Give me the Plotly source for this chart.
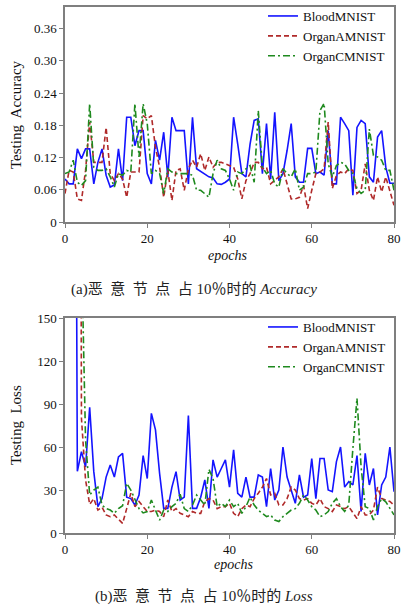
import plotly.graph_objects as go

epochs = list(range(81))

# (a) Testing accuracy
acc_blood = [0.080, 0.071, 0.071, 0.136, 0.118, 0.136, 0.136, 0.071, 0.111, 0.136,
             0.087, 0.065, 0.069, 0.136, 0.077, 0.195, 0.195, 0.142, 0.170, 0.170,
             0.090, 0.071, 0.152, 0.115, 0.167, 0.084, 0.195, 0.170, 0.170, 0.170,
             0.071, 0.195, 0.099, 0.094, 0.089, 0.084, 0.082, 0.071, 0.070, 0.074,
             0.080, 0.195, 0.145, 0.090, 0.084, 0.145, 0.189, 0.192, 0.090, 0.183,
             0.080, 0.204, 0.077, 0.090, 0.133, 0.183, 0.084, 0.074, 0.074, 0.137,
             0.137, 0.090, 0.093, 0.087, 0.170, 0.071, 0.071, 0.195, 0.183, 0.170,
             0.050, 0.176, 0.189, 0.183, 0.084, 0.074, 0.158, 0.170, 0.102, 0.072,
             0.072]
acc_organa = [0.053, 0.096, 0.093, 0.043, 0.040, 0.096, 0.186, 0.111, 0.111, 0.111,
              0.176, 0.090, 0.077, 0.090, 0.080, 0.046, 0.093, 0.093, 0.093, 0.198,
              0.192, 0.198, 0.139, 0.102, 0.046, 0.096, 0.040, 0.096, 0.099, 0.059,
              0.099, 0.115, 0.102, 0.127, 0.096, 0.121, 0.102, 0.111, 0.111, 0.108,
              0.105, 0.102, 0.080, 0.043, 0.077, 0.090, 0.111, 0.111, 0.099, 0.102,
              0.071, 0.077, 0.084, 0.099, 0.071, 0.043, 0.043, 0.046, 0.068, 0.025,
              0.059, 0.090, 0.093, 0.099, 0.186, 0.062, 0.087, 0.093, 0.090, 0.099,
              0.096, 0.053, 0.059, 0.108, 0.059, 0.040, 0.084, 0.056, 0.084, 0.059,
              0.031]
acc_organc = [0.090, 0.093, 0.115, 0.074, 0.068, 0.077, 0.220, 0.102, 0.096, 0.096,
              0.099, 0.084, 0.065, 0.090, 0.087, 0.096, 0.093, 0.220, 0.121, 0.220,
              0.183, 0.090, 0.096, 0.090, 0.053, 0.099, 0.093, 0.090, 0.090, 0.090,
              0.090, 0.087, 0.059, 0.059, 0.053, 0.046, 0.090, 0.115, 0.099, 0.096,
              0.080, 0.059, 0.093, 0.090, 0.099, 0.105, 0.074, 0.207, 0.102, 0.090,
              0.096, 0.071, 0.065, 0.099, 0.090, 0.084, 0.099, 0.059, 0.065, 0.090,
              0.090, 0.093, 0.207, 0.221, 0.108, 0.084, 0.105, 0.111, 0.108, 0.096,
              0.090, 0.062, 0.053, 0.059, 0.173, 0.124, 0.121, 0.115, 0.096, 0.096,
              0.059]

# (b) Testing loss
loss_blood = [1800, 1500, 750, 43, 56.8, 46, 87.7, 42.8, 18.4, 24,
              39, 47.4, 39, 53, 55.6, 25, 24, 19.5, 26.5, 54,
              38, 83.5, 72, 41.6, 17.2, 17.2, 32, 42.8, 23, 25,
              82, 17.2, 17.2, 25, 37, 17.2, 51, 39, 45, 51,
              32, 58, 27.7, 25, 39, 25, 25, 40.5, 39, 18.4,
              45, 23, 30, 60, 39, 30, 20.7, 40.5, 25, 26.5,
              52, 24, 52, 52, 30, 28.8, 49.8, 60, 32, 35.8,
              33.5, 54, 15, 55.6, 33.5, 45, 12.6, 33.5, 39, 60,
              28.8]
loss_organa = [1900, 1700, 1500, 1300, 80, 37, 20, 24, 16, 18,
               12.6, 11.4, 12.6, 10, 6.7, 17, 27.7, 18.4, 22, 18.4,
               15, 15, 16, 15, 11.4, 23, 15, 17, 13.7, 12.6,
               11.4, 15, 13.7, 13.7, 22, 24, 23, 17, 18.4, 18.4,
               20.7, 13.7, 11.4, 17, 19.5, 18.4, 24, 27.7, 32, 38,
               26.5, 27.7, 19.5, 19.5, 24, 32, 30, 24, 23, 24,
               20.7, 19.5, 24, 18.4, 17, 15, 19.5, 18.4, 17, 18.4,
               13.7, 10, 18.4, 12.6, 12.6, 16, 32, 24, 23, 22,
               19.5]
loss_organc = [2000, 1800, 1600, 1400, 200, 65, 26.5, 30, 32, 19.5,
               17, 16, 13.7, 17, 19, 34.7, 30, 23, 17, 14,
               15, 23, 16, 9, 16, 15, 18.4, 20.7, 27, 17,
               15, 19.5, 26.5, 23, 19.5, 44.4, 38, 18.4, 20.7, 18.4,
               23, 18.4, 20.7, 13.7, 18.4, 25, 19.5, 16, 13.7, 11.4,
               12.6, 9, 8, 11.4, 13.7, 16, 17, 20.7, 26.5, 23,
               18.4, 16, 11.4, 12.6, 15, 20.7, 24, 18.4, 15, 19.5,
               59, 94, 46, 18.4, 17, 9, 18.4, 24, 21.8, 17,
               12.6]

series_names = ["BloodMNIST", "OrganAMNIST", "OrganCMNIST"]
acc_ticks = [0, 0.06, 0.12, 0.18, 0.24, 0.30, 0.36]
acc_ticktext = ["0", "0.06", "0.12", "0.18", "0.24", "0.30", "0.36"]
loss_ticks = [0, 30, 60, 90, 120, 150]
x_ticks = [0, 20, 40, 60, 80]

colors = ["#1414ff", "#b02a2a", "#1f8a1f"]
dashes = ["solid", "5px,3px", "7px,3px,2px,3px"]
SERIF = "Liberation Serif, DejaVu Serif, serif"
CAPFONT = "Liberation Serif, Noto Sans CJK SC"

fig = go.Figure()
for name, ys, c, d in zip(series_names, [acc_blood, acc_organa, acc_organc], colors, dashes):
    fig.add_trace(go.Scatter(x=epochs, y=ys, mode="lines", name=name,
                             line=dict(color=c, width=1.6, dash=d),
                             xaxis="x", yaxis="y", legend="legend"))
for name, ys, c, d in zip(series_names, [loss_blood, loss_organa, loss_organc], colors, dashes):
    fig.add_trace(go.Scatter(x=epochs, y=ys, mode="lines", name=name,
                             line=dict(color=c, width=1.6, dash=d),
                             xaxis="x2", yaxis="y2", legend="legend2"))

W, H = 401, 606
ml, mr, mt, mb = 65, 7, 7, 73
ph = H - mt - mb
pw = W - ml - mr
def py(p):  # pixel y -> paper y
    return (H - mb - p) / ph
def px(p):
    return (p - ml) / pw

axis_common = dict(showline=True, linecolor="#7f7f7f", linewidth=1.5, mirror=True,
                   ticks="outside", ticklen=4, tickcolor="#7f7f7f", tickwidth=1.2,
                   showgrid=False, zeroline=False, automargin=False,
                   tickfont=dict(family=SERIF, size=13, color="#111"))

legend_common = dict(xanchor="left", yanchor="top",
                     font=dict(family=SERIF, size=13, color="#111"),
                     bgcolor="rgba(255,255,255,0)", itemwidth=30, tracegroupgap=0)

fig.update_layout(
    width=W, height=H,
    margin=dict(l=ml, r=mr, t=mt, b=mb, autoexpand=False),
    paper_bgcolor="white", plot_bgcolor="white",
    xaxis=dict(domain=[0, 1], range=[0, 80], tickvals=x_ticks, anchor="y", **axis_common),
    yaxis=dict(domain=[py(222), 1], range=[0, 0.40], tickvals=acc_ticks,
               ticktext=acc_ticktext, anchor="x", **axis_common),
    xaxis2=dict(domain=[0, 1], range=[0, 80], tickvals=x_ticks, anchor="y2", **axis_common),
    yaxis2=dict(domain=[0, py(318)], range=[0, 150], tickvals=loss_ticks, anchor="x2",
                **axis_common),
    legend=dict(x=px(263), y=py(1), **legend_common),
    legend2=dict(x=px(263), y=py(312), **legend_common),
    showlegend=True,
)

ann = []
def add(text, xp, yp, size, family=SERIF, angle=0, color="#111"):
    ann.append(dict(text=text, x=px(xp), y=py(yp), xref="paper", yref="paper",
                    textangle=angle, showarrow=False, font=dict(family=family, size=size, color=color),
                    xanchor="center", yanchor="middle"))

add("Testing  Accuracy", 15.5, 114.5, 15, angle=-90)
add("Testing  Loss", 15.5, 425.5, 15, angle=-90)
add("<i>epochs</i>", 227, 255, 14)
add("<i>epochs</i>", 233, 564, 14)
sp = "\u2002"
add("(a)" + sp.join("恶意节点占") + " 10％时的 <i>Accuracy</i>", 194, 289, 15, family=CAPFONT, color="#222")
add("(b)" + sp.join("恶意节点占") + " 10％时的 <i>Loss</i>", 204, 596, 15, family=CAPFONT, color="#222")
fig.update_layout(annotations=ann)

fig.write_html("out.html", config={"displayModeBar": False},
               post_script="document.body.style.margin='0';document.body.style.overflow='hidden';")
